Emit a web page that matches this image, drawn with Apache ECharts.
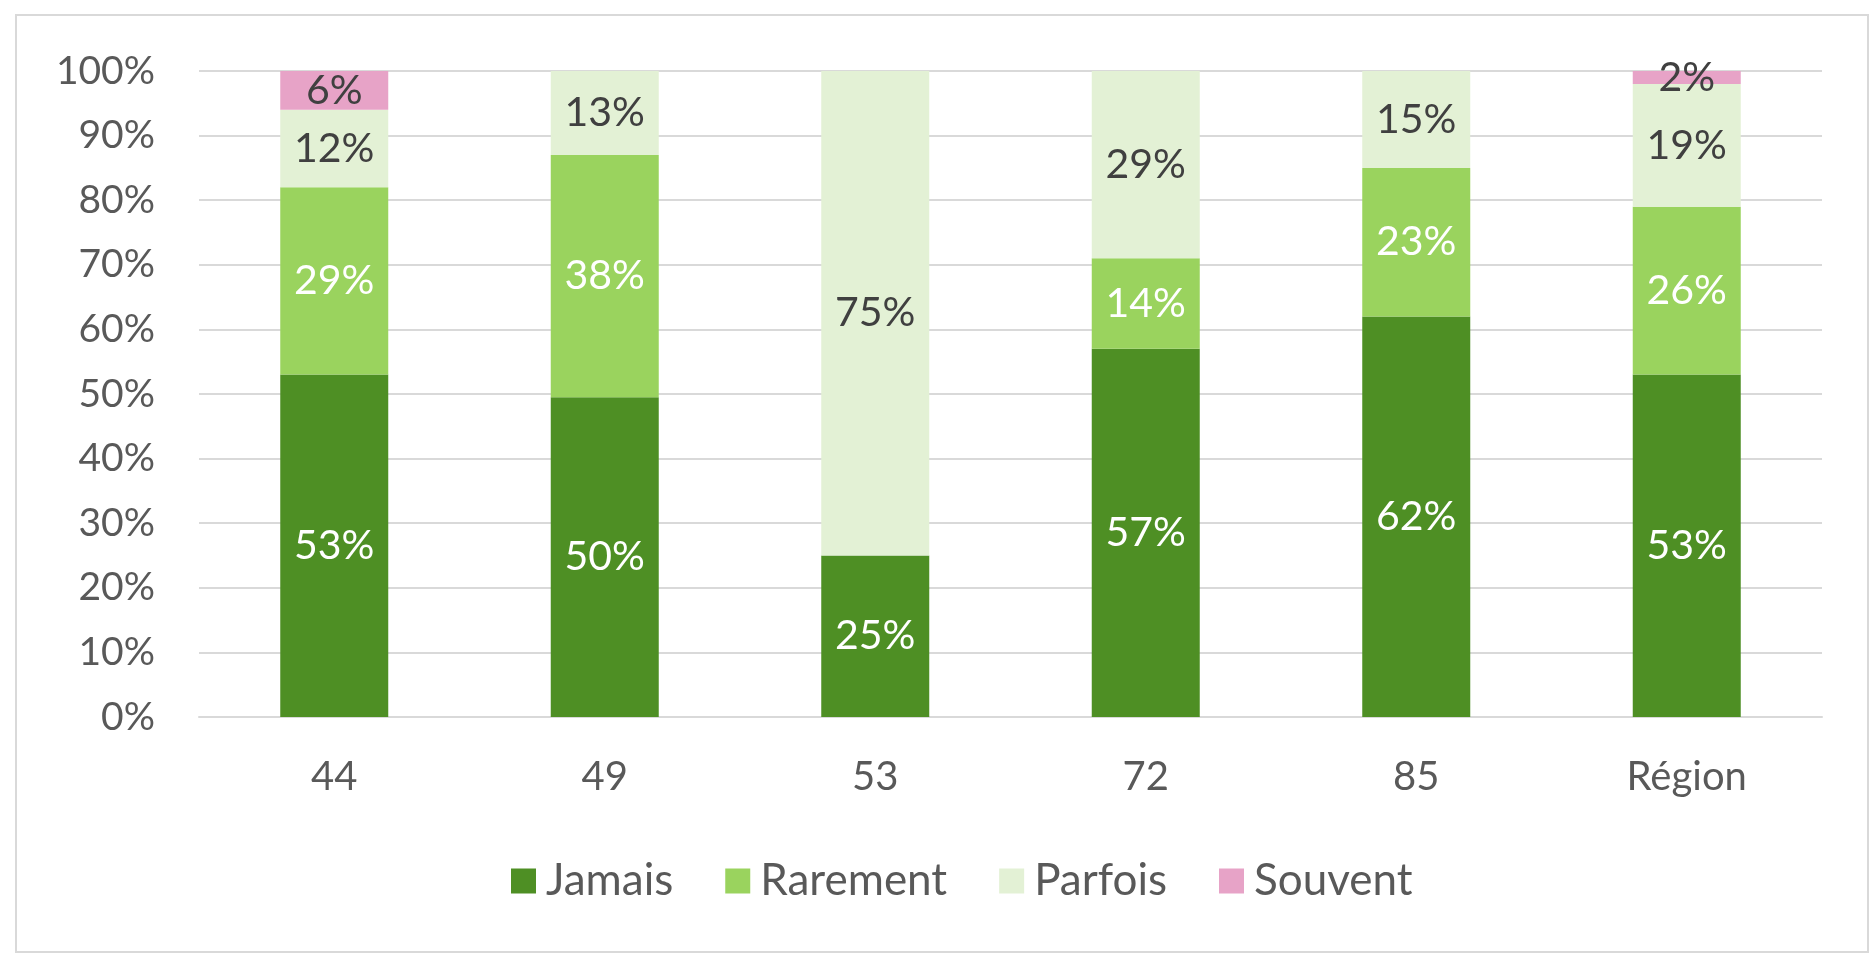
<!DOCTYPE html>
<html>
<head>
<meta charset="utf-8">
<script src="https://cdn.jsdelivr.net/npm/echarts@6/dist/echarts.min.js"></script>
<style>
  html, body { margin: 0; padding: 0; background: #fff; }
  #chart { width: 1873px; height: 958px; }
</style>
</head>
<body>
<div id="chart"></div>
<script>
// catégories et valeurs (%)
const categories = ['44', '49', '53', '72', '85', 'Région']
const jamais = [53, 49.5, 25, 57, 62, 53]
const rarement = [29, 37.5, 0, 14, 23, 26]
const parfois = [12, 13, 75, 29, 15, 19]
const souvent = [6, 0, 0, 0, 0, 2]
const yTicks = [0, 10, 20, 30, 40, 50, 60, 70, 80, 90, 100]

const font = 'Lato'
const textColor = '#595959'

function makeSeries (name, data, color, labelColor) {
  return {
    name: name,
    type: 'bar',
    stack: 'total',
    barWidth: 108,
    data: data,
    itemStyle: { color: color },
    label: {
      show: true,
      position: 'inside',
      color: labelColor,
      fontFamily: font,
      fontSize: 41,
      formatter: (p) => p.value > 0 ? Math.round(p.value) + '%' : ''
    }
  }
}

const chart = echarts.init(document.getElementById('chart'))
chart.setOption({
  animation: false,
  textStyle: { fontFamily: font },
  graphic: [{
    type: 'rect',
    shape: { x: 16, y: 15, width: 1852, height: 937 },
    style: { fill: 'none', stroke: '#d9d9d9', lineWidth: 2 },
    silent: true
  }],
  grid: { left: 199, right: 51, top: 71, bottom: 241 },
  legend: {
    top: 854,
    left: 506,
    itemWidth: 25,
    itemHeight: 25,
    itemGap: 52,
    icon: 'rect',
    textStyle: { color: textColor, fontSize: 44, lineHeight: 44, fontFamily: font, padding: [0, 0, 0, 5] },
    data: ['Jamais', 'Rarement', 'Parfois', 'Souvent']
  },
  xAxis: {
    type: 'category',
    data: categories,
    axisLine: { lineStyle: { color: '#d9d9d9', width: 2 } },
    axisTick: { show: false },
    axisLabel: { color: textColor, fontSize: 40, fontFamily: font, margin: 40 }
  },
  yAxis: {
    type: 'value',
    min: yTicks[0],
    max: yTicks[yTicks.length - 1],
    interval: yTicks[1] - yTicks[0],
    axisLine: { show: false },
    axisTick: { show: false },
    splitLine: { lineStyle: { color: '#d9d9d9', width: 2 } },
    axisLabel: { color: textColor, fontSize: 39, fontFamily: font, margin: 44, formatter: '{value}%' }
  },
  series: [
    makeSeries('Jamais', jamais, '#4e8f24', '#ffffff'),
    makeSeries('Rarement', rarement, '#9ad35e', '#ffffff'),
    makeSeries('Parfois', parfois, '#e3f1d5', '#404040'),
    makeSeries('Souvent', souvent, '#e7a3c7', '#404040')
  ]
})
</script>
</body>
</html>
